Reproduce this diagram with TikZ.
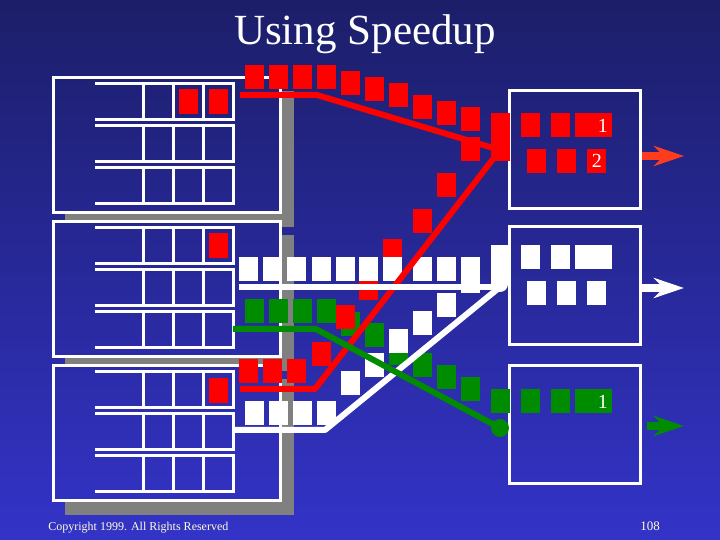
\documentclass[tikz,border=0pt]{standalone}
\usepackage{fontspec}
\setmainfont{Liberation Serif}
\usetikzlibrary{arrows.meta}
\definecolor{bgtop}{RGB}{28,30,105}
\definecolor{bgbottom}{RGB}{51,51,200}
\definecolor{shadowgray}{RGB}{128,128,128}
\definecolor{pktred}{RGB}{255,0,0}
\definecolor{pktgreen}{RGB}{0,140,0}
\definecolor{arrowred}{RGB}{255,60,30}
\definecolor{footer}{RGB}{255,255,215}

\begin{document}
\begin{tikzpicture}[x=0.5pt, y=-0.5pt,
  frame/.style={draw=white, line width=1.5pt},
  flow/.style={line width=3pt, line join=round},
  outarrow/.style={line width=4pt, -{Stealth[length=15pt,width=10pt]}},
  lbl/.style={text=white, font=\fontsize{10}{10}\selectfont, inner sep=0pt}]

  \shade[top color=bgtop, bottom color=bgbottom] (0,0) rectangle (720,540);

  % input switches, shadow first
  \foreach \T/\D in {78/144, 222/144, 366/149} {
    \fill[shadowgray] (281,\T+13) rectangle (294,\T+149);
    \fill[shadowgray] (65,\T+135) rectangle (294,\T+\D);
    \draw[frame] (54,\T) rectangle (281,\T+135);
    \foreach \k in {0,1,2} {
      \draw[frame] (95,\T+6+42*\k) -- (234,\T+6+42*\k) -- (234,\T+42+42*\k) -- (95,\T+42+42*\k);
      \foreach \c in {144,174,204}
        \draw[frame] (\c,\T+6+42*\k) -- (\c,\T+42+42*\k);
    }
  }

  % output ports
  \foreach \T in {91,227,366}
    \draw[frame] (510,\T) rectangle (641,\T+118);

  % packets waiting in the input buffers
  \foreach \x/\y in {179/89, 209/89, 209/233, 209/378}
    \fill[pktred] (\x,\y) rectangle ++(19,25);

  % red packets
  \foreach \x/\y in {245/65, 269/65, 293/65, 317/65, 341/71, 365/77, 389/83, 413/95, 437/101, 461/107,
                     239/359, 263/359, 287/359, 312/342, 336/305, 359/276, 383/239, 413/209, 437/173, 461/137,
                     521/113, 551/113, 527/149, 557/149, 587/149}
    \fill[pktred] (\x,\y) rectangle ++(19,24);
  \fill[pktred] (491,113) rectangle (510,161);
  \fill[pktred] (575,113) rectangle (612,137);

  % green packets
  \foreach \x/\y in {245/299, 269/299, 293/299, 317/299, 341/312, 365/323, 389/341, 413/353, 437/365, 461/377,
                     491/389, 521/389, 551/389}
    \fill[pktgreen] (\x,\y) rectangle ++(19,24);
  \fill[pktgreen] (575,389) rectangle (612,413);

  % white packets
  \foreach \x/\y in {239/257, 263/257, 287/257, 312/257, 336/257, 359/257, 383/257, 413/257, 437/257,
                     245/401, 269/401, 293/401, 317/401, 341/371, 365/353, 389/329, 413/311, 437/293,
                     521/245, 551/245, 527/281, 557/281, 587/281}
    \fill[white] (\x,\y) rectangle ++(19,24);
  \fill[white] (461,257) rectangle (480,293);
  \fill[white] (491,245) rectangle (510,285);
  \fill[white] (575,245) rectangle (612,269);
  \fill[pktred] (336,305) rectangle ++(19,24);

  % paths through the fabric
  \coordinate (mergered) at (500,150);
  \coordinate (mergewhite) at (500,287);
  \coordinate (mergegreen) at (500,428);
  \draw[flow, pktred] (240,95) -- (317,95) -- (mergered);
  \draw[flow, pktred] (240,389) -- (315,389) -- (mergered);
  \draw[flow, white] (239,287) -- (mergewhite);
  \draw[flow, white] (234,430) -- (325,430) -- (mergewhite);
  \draw[flow, pktgreen] (233,329) -- (316,329) -- (mergegreen);
  \fill[white] (500,284) circle (8);
  \fill[pktgreen] (mergegreen) circle (9);

  \node[lbl] (redone) at (603,126) {1};
  \node[lbl] (redtwo) at (597,161) {2};
  \node[lbl] (greenone) at (603,402) {1};

  % departures
  \draw[outarrow, arrowred] (642,156) -- (684,156);
  \draw[outarrow, white] (642,288) -- (684,288);
  \draw[outarrow, pktgreen] (647,426) -- (684,426);

  \node[anchor=base, text=white, font=\fontsize{21.5}{24}\selectfont] (title) at (365,45) {Using Speedup};
  \node[anchor=base west, inner sep=0pt, text=footer, font=\fontsize{6}{7}\selectfont] (copy) at (48,531) {Copyright 1999. All Rights Reserved};
  \node[anchor=base west, inner sep=0pt, text=footer, font=\fontsize{6.5}{7}\selectfont] (page) at (640,531) {108};
\end{tikzpicture}
\end{document}
